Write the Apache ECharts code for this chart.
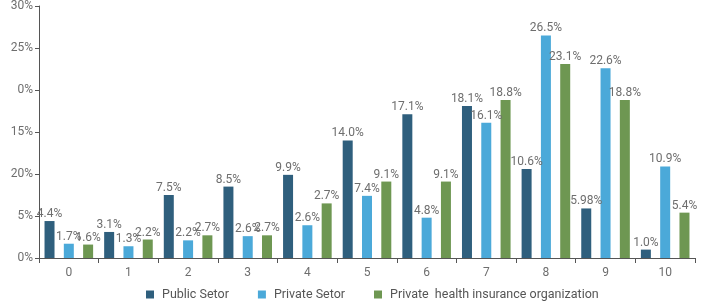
<!DOCTYPE html>
<html><head><meta charset="utf-8">
<script src="https://cdn.jsdelivr.net/npm/echarts@6/dist/echarts.min.js"></script>
<style>html,body{margin:0;padding:0;background:#fff}#c{width:706px;height:304px}</style>
</head><body><div id="c"></div>
<script>
var categories = ["0","1","2","3","4","5","6","7","8","9","10"];
var seriesNames = ["Public Setor","Private Setor","Private  health insurance organization"];
var publicValues = [4.4, 3.1, 7.5, 8.5, 9.9, 14.0, 17.1, 18.1, 10.6, 5.9, 1.0];
var privateValues = [1.7, 1.4, 2.1, 2.6, 3.9, 7.4, 4.8, 16.1, 26.5, 22.6, 10.9];
var insuranceValues = [1.6, 2.2, 2.7, 2.7, 6.5, 9.1, 9.1, 18.8, 23.1, 18.8, 5.4];
var publicLabels = ["4.4%","3.1%","7.5%","8.5%","9.9%","14.0%","17.1%","18.1%","10.6%","5.98%","1.0%"];
var privateLabels = ["1.7%","1.3%","2.2%","2.6%","2.6%","7.4%","4.8%","16.1%","26.5%","22.6%","10.9%"];
var insuranceLabels = ["1.6%","2.2%","2.7%","2.7%","2.7%","9.1%","9.1%","18.8%","23.1%","18.8%","5.4%"];
var yTickLabels = ["0%","5%","20%","15%","0%","25%","30%"];

var colors = ["#2f5f7d", "#4ba9d9", "#6e9752"];
var font = "Roboto, 'Liberation Sans', sans-serif";
function mk(name, vals, labels, color) {
  return {
    name: name, type: 'bar', data: vals, barWidth: 10, barGap: '93%',
    itemStyle: {color: color},
    label: {show: true, position: 'top', distance: 1, color: '#6e6e6e', fontSize: 12, fontFamily: font,
      formatter: function(p){ return labels[p.dataIndex]; }}
  };
}
var chart = echarts.init(document.getElementById('c'), null, {renderer: 'canvas'});
chart.setOption({
  animation: false,
  grid: {left: 39, right: 11, top: 5, bottom: 46, containLabel: false},
  legend: {bottom: 3, left: 146, padding: 0, itemWidth: 8, itemHeight: 8, itemGap: 29,
    icon: 'rect', textStyle: {color: '#555', fontSize: 12.5, fontFamily: font, padding: [0,0,0,3]},
    data: seriesNames},
  xAxis: {type: 'category', data: categories,
    axisLine: {lineStyle: {color: '#555'}},
    axisTick: {show: true, length: 5, lineStyle: {color: '#555'}},
    axisLabel: {color: '#6e6e6e', fontSize: 12, fontFamily: font, margin: 9}},
  yAxis: {type: 'value', min: 0, max: 30, interval: 5,
    splitLine: {show: false},
    axisLine: {show: true, lineStyle: {color: '#555'}},
    axisTick: {show: true, length: 4, lineStyle: {color: '#555'}},
    axisLabel: {color: '#6e6e6e', fontSize: 12, fontFamily: font, margin: 6,
      formatter: function(v){ return yTickLabels[Math.round(v/5)]; }}},
  series: [
    mk(seriesNames[0], publicValues, publicLabels, colors[0]),
    mk(seriesNames[1], privateValues, privateLabels, colors[1]),
    mk(seriesNames[2], insuranceValues, insuranceLabels, colors[2])
  ]
});
</script></body></html>
